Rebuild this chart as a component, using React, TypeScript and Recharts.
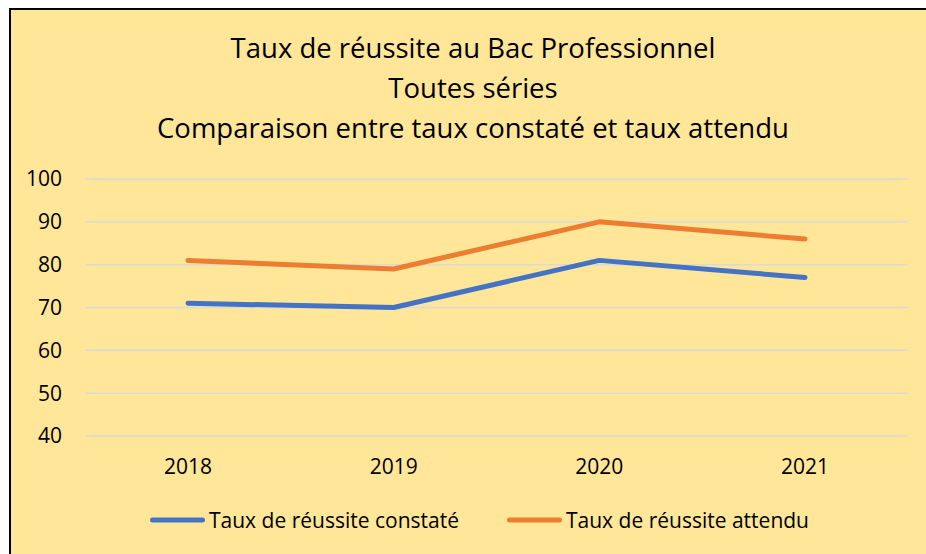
import React from 'react';
import { LineChart, Line, XAxis, YAxis, CartesianGrid } from 'recharts';

const years = ['2018', '2019', '2020', '2021'];
const tauxConstate = [71, 70, 81, 77];
const tauxAttendu = [81, 79, 90, 86];
const yTicks = [40, 50, 60, 70, 80, 90, 100];

const titleLines = [
    'Taux de réussite au Bac Professionnel',
    'Toutes séries',
    'Comparaison entre taux constaté et taux attendu',
];

const series = [
    { key: 'constate', name: 'Taux de réussite constaté', color: '#4472C4' },
    { key: 'attendu', name: 'Taux de réussite attendu', color: '#ED7D31' },
];

const data = years.map((year, i) => ({
    year,
    constate: tauxConstate[i],
    attendu: tauxAttendu[i],
}));

const FONT = '"Open Sans", sans-serif';
const textColor = '#000000';
const gridColor = '#D9D9D9';

const App: React.FC = () => {
    return (
        <div style={{ position: 'fixed', left: 0, top: 0, width: 926, height: 554, overflow: 'hidden', background: '#fff', fontFamily: FONT }}>
            {/* chart area box, cut off on the right and bottom like the screenshot */}
            <div style={{ position: 'absolute', left: 9, top: 8, width: 960, height: 600, background: '#FFE699', borderLeft: '2px solid #000', borderTop: '2px solid #000' }} />

            <div style={{ position: 'absolute', left: 0, top: 28, width: 946, textAlign: 'center', fontSize: 27.5, lineHeight: '40px', color: textColor }}>
                {titleLines.map(t => <div key={t}>{t}</div>)}
            </div>

            <div style={{ position: 'absolute', left: 0, top: 0 }}>
                <LineChart width={926} height={554} data={data} margin={{ top: 179, right: 18, left: 25, bottom: 88 }}>
                    <CartesianGrid stroke={gridColor} strokeWidth={1.5} vertical={false} />
                    <XAxis
                        dataKey="year"
                        axisLine={false}
                        tickLine={false}
                        height={30}
                        padding={{ left: 103, right: 103 }}
                        tickMargin={17}
                        tick={{ fill: textColor, fontSize: 21, fontFamily: FONT }}
                    />
                    <YAxis
                        domain={[40, 100]}
                        ticks={yTicks}
                        axisLine={false}
                        tickLine={false}
                        width={60}
                        tickMargin={17}
                        tick={{ fill: textColor, fontSize: 21, fontFamily: FONT }}
                    />
                    {series.map(s => (
                        <Line
                            key={s.key}
                            type="linear"
                            dataKey={s.key}
                            name={s.name}
                            stroke={s.color}
                            strokeWidth={5}
                            strokeLinecap="round"
                            strokeLinejoin="round"
                            dot={false}
                            activeDot={false}
                            isAnimationActive={false}
                        />
                    ))}
                </LineChart>
            </div>

            <div style={{ position: 'absolute', left: 150, top: 505, display: 'flex', alignItems: 'center', fontSize: 21, color: textColor, height: 30 }}>
                {series.map((s, i) => (
                    <div key={s.key} style={{ display: 'flex', alignItems: 'center', marginRight: i === 0 ? 48 : 0 }}>
                        <svg width={55} height={10} style={{ marginRight: 4 }}>
                            <line x1={2.5} y1={5} x2={52.5} y2={5} stroke={s.color} strokeWidth={5} strokeLinecap="round" />
                        </svg>
                        <span>{s.name}</span>
                    </div>
                ))}
            </div>
        </div>
    );
};

export default App;
